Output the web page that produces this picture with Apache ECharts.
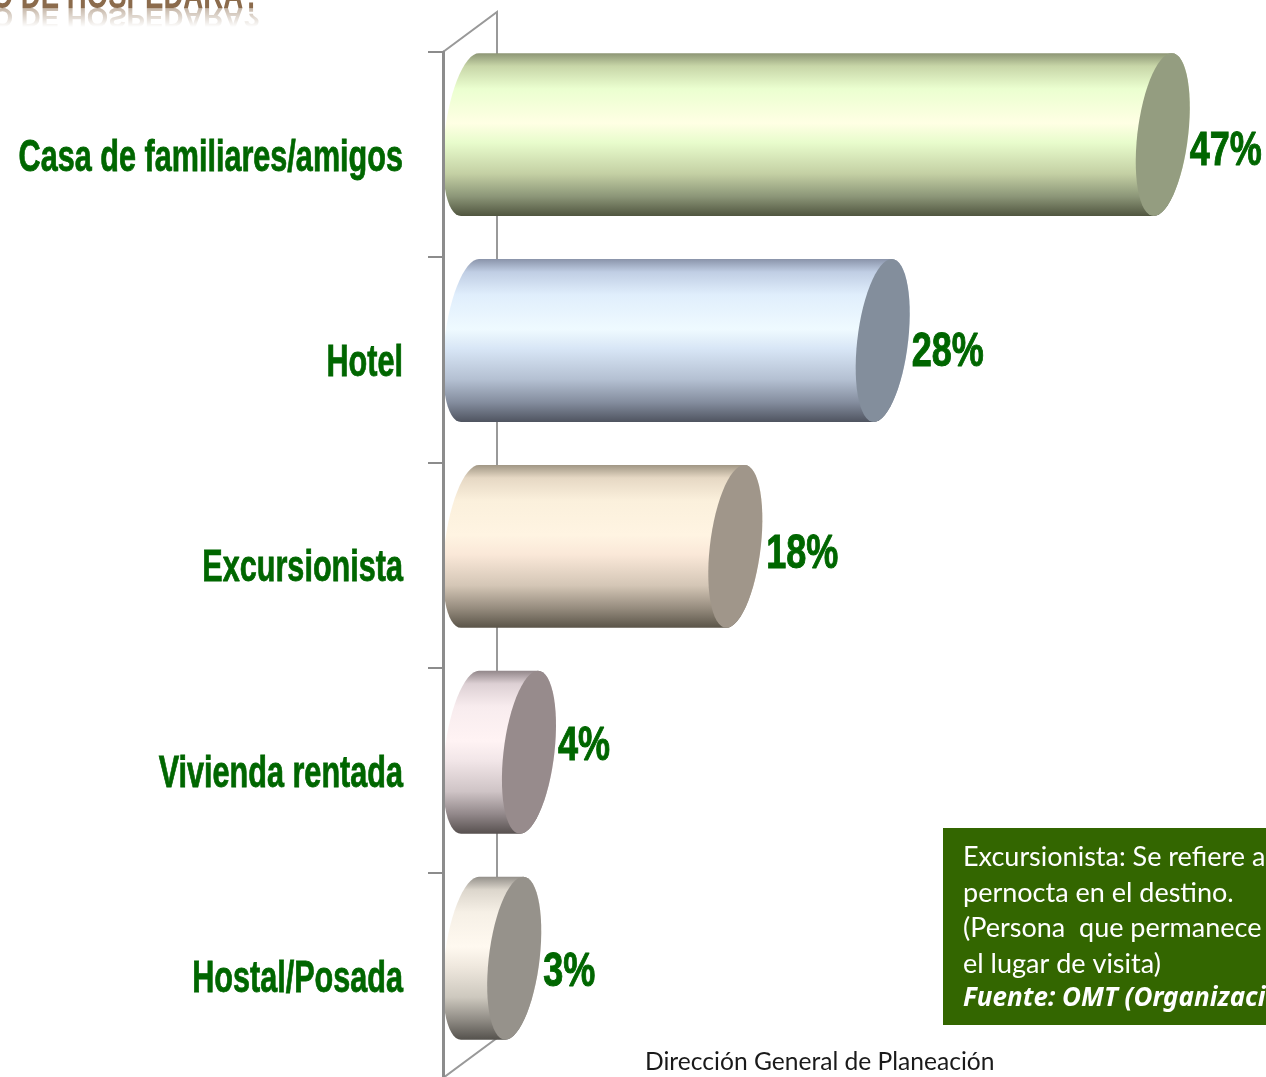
<!DOCTYPE html>
<html>
<head>
<meta charset="utf-8">
<title>Hospedaje</title>
<style>
  html, body { margin: 0; padding: 0; background: #fff; overflow: hidden; }
  #chart { width: 1266px; height: 1077px; }
</style>
<script src="https://cdn.jsdelivr.net/npm/echarts@6/dist/echarts.min.js"></script>
</head>
<body>
<div id="chart"></div>
<script>
const categories = ['Casa de familiares/amigos', 'Hotel', 'Excursionista', 'Vivienda rentada', 'Hostal/Posada'];
const percentages = [47, 28, 18, 4, 3];
const noteLines = ['Excursionista: Se refiere a', 'pernocta en el destino.', '(Persona  que permanece', 'el lugar de visita)'];
const noteSource = 'Fuente: OMT (Organización';
const footer = 'Dirección General de Planeación';
const titleTail = 'O DE HOSPEDARA?';

// colores de cada cilindro, de arriba a abajo, y la tapa
const bodyColors = [
  ['#8c9574', '#c8d6a8', '#ebffd0', '#ffffe4', '#e8fccc', '#c4d0a4', '#8c9678', '#50553f'],
  ['#8a94aa', '#c0cee4', '#e0eefc', '#effaff', '#d8e6f6', '#b4c0d2', '#848d9e', '#4f5460'],
  ['#a09684', '#e6d8c4', '#fbf0dc', '#fff4e2', '#fae8d8', '#d4c6b6', '#968c7e', '#5a5448'],
  ['#92878a', '#ddd0d4', '#f8ecee', '#fff3f4', '#f2e6e8', '#cfc4c6', '#92888a', '#57504f'],
  ['#94908a', '#dcd6cc', '#f6f0e6', '#fff9f0', '#efe8de', '#cdc8be', '#8f8b84', '#55524d']
];
const stopOffsets = [0, 0.08, 0.22, 0.43, 0.55, 0.74, 0.88, 1];
const capColors = ['#949d80', '#838e9c', '#a0968a', '#978b8c', '#96928b'];
const labelNudge = [17, 12, 8, -6, 15];
const gapNudge = [0, 2, 4, 2, 2];

const DEPTH = 27;      // media profundidad 3D
const SKEW = 9;
const TEXT_FONT = '"Liberation Sans", sans-serif';
const GREEN = '#006600';

const ellipsePoints = (cx, cy, ry, from, to) => {
  const pts = [];
  for (let d = from; d <= to; d += 6) {
    const t = d * Math.PI / 180;
    pts.push([cx + (DEPTH - 1.5) * Math.cos(t) - SKEW * Math.sin(t), cy + ry * Math.sin(t)]);
  }
  return pts;
};

const renderWall = (params) => {
  const r = params.coordSys;
  return {
    type: 'polyline',
    shape: { points: [
      [r.x - DEPTH, r.y],
      [r.x + DEPTH, r.y - 40],
      [r.x + DEPTH, r.y + r.height - 40],
      [r.x - DEPTH, r.y + r.height]
    ] },
    style: { stroke: '#999999', lineWidth: 2, fill: null }
  };
};

const renderCylinder = (params, api) => {
  const i = params.dataIndex;
  const start = api.coord([0, api.value(1)]);
  const end = api.coord([api.value(0), api.value(1)]);
  const band = api.size([0, 1])[1];
  const cy = end[1] - band * 0.0975 + i * 0.7;
  const ry = band * 0.397;
  return {
    type: 'group',
    children: [
      {
        type: 'polygon',
        shape: { points: ellipsePoints(end[0], cy, ry, -90, 90).concat(ellipsePoints(start[0], cy, ry, 90, 270)) },
        style: { fill: new echarts.graphic.LinearGradient(0, 0, 0, 1, bodyColors[i].map((color, k) => ({ offset: stopOffsets[k], color }))) }
      },
      {
        type: 'polygon',
        shape: { points: ellipsePoints(end[0], cy, ry, 0, 360) },
        style: { fill: capColors[i] }
      },
      {
        // valor, angostado porque no hay fuente condensada instalada
        type: 'text',
        x: end[0] + DEPTH + gapNudge[i],
        y: cy + labelNudge[i],
        scaleX: 0.75,
        style: {
          text: api.value(0) + '%',
          fill: GREEN,
          stroke: GREEN,
          lineWidth: 1,
          font: 'bold 48px ' + TEXT_FONT,
          textAlign: 'left',
          textVerticalAlign: 'middle'
        }
      },
      {
        // categoria
        type: 'text',
        x: params.coordSys.x - 67,
        y: end[1] + 4,
        scaleX: 0.68,
        style: {
          text: categories[api.value(1)],
          fill: GREEN,
          stroke: GREEN,
          lineWidth: 0.8,
          font: 'bold 45px ' + TEXT_FONT,
          textAlign: 'right',
          textVerticalAlign: 'middle'
        }
      }
    ]
  };
};

const noteGraphics = noteLines.map((text, i) => ({
  type: 'text',
  left: 963,
  top: 844 + i * 35.5,
  style: { text, fill: '#ffffff', font: '27px Lato, sans-serif' }
}));

const option = {
  animation: false,
  backgroundColor: '#ffffff',
  grid: { left: 470, top: 52, width: 737, height: 1026, outerBoundsMode: 'none' },
  xAxis: { type: 'value', min: 0, max: 50, show: false },
  yAxis: {
    type: 'category',
    inverse: true,
    data: categories,
    offset: DEPTH,
    z: 5,
    axisLine: { onZero: false, lineStyle: { color: '#8c8c8c', width: 3 } },
    axisTick: { show: true, interval: 0, length: 15, lineStyle: { color: '#8c8c8c', width: 2 } },
    axisLabel: { show: true, color: 'rgba(0,0,0,0)', fontSize: 1 }
  },
  series: [
    { type: 'custom', coordinateSystem: 'cartesian2d', data: [[0, 0]], encode: { x: 0, y: 1 }, renderItem: renderWall, z: 1 },
    {
      type: 'custom',
      coordinateSystem: 'cartesian2d',
      data: percentages.map((v, i) => [v, i]),
      encode: { x: 0, y: 1 },
      renderItem: renderCylinder,
      clip: false,
      z: 3
    }
  ],
  graphic: [
    // titulo cortado arriba, con su reflejo que se desvanece
    {
      type: 'text', x: 260, y: 17, scaleX: 0.69,
      style: { text: titleTail, fill: '#8b6b4c', font: 'bold 40px ' + TEXT_FONT, textAlign: 'right', textVerticalAlign: 'bottom' }
    },
    {
      type: 'text', x: 260, y: 2, scaleX: 0.69, scaleY: -0.7,
      style: { text: titleTail, fill: 'rgba(139,107,76,0.55)', font: 'bold 40px ' + TEXT_FONT, textAlign: 'right', textVerticalAlign: 'bottom' }
    },
    {
      type: 'rect',
      shape: { x: 0, y: 9, width: 280, height: 24 },
      style: {
        fill: new echarts.graphic.LinearGradient(0, 0, 0, 1, [
          { offset: 0, color: 'rgba(255,255,255,0.15)' },
          { offset: 0.75, color: 'rgba(255,255,255,1)' }
        ])
      }
    },
    { type: 'rect', shape: { x: 943, y: 828, width: 323, height: 197 }, style: { fill: '#336600' } },
    ...noteGraphics,
    {
      type: 'text', left: 963, top: 986,
      style: { text: noteSource, fill: '#ffffff', font: 'italic bold 26px "Noto Sans", sans-serif' }
    },
    {
      type: 'text', left: 645, top: 1050,
      style: { text: footer, fill: '#1a1a1a', font: '24.6px Lato, sans-serif' }
    }
  ]
};

const chart = echarts.init(document.getElementById('chart'));
chart.setOption(option);
</script>
</body>
</html>
